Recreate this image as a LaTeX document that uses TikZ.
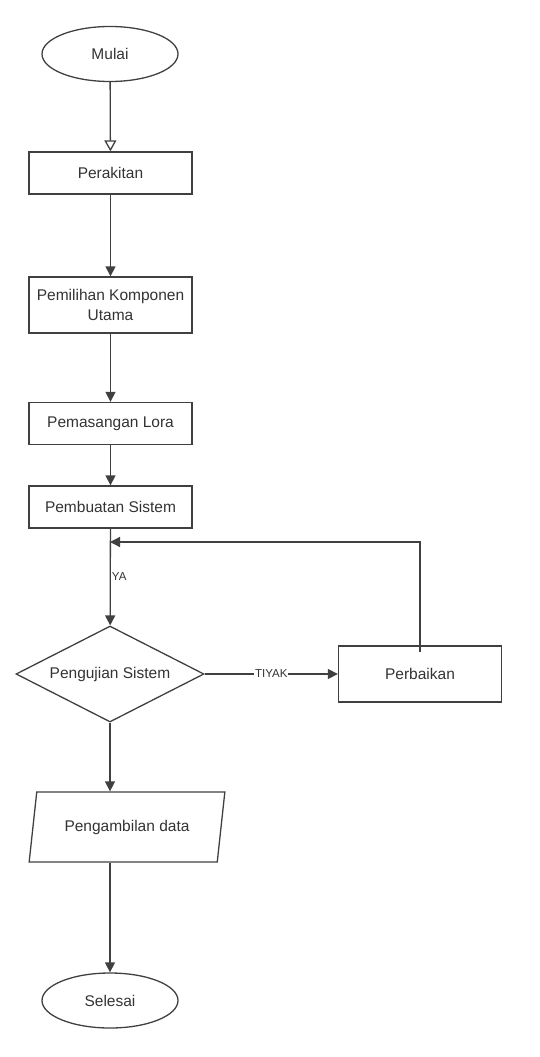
\documentclass[tikz,border=0pt]{standalone}
\usepackage{fontspec}
\setmainfont{Liberation Sans}
\usetikzlibrary{shapes.geometric,positioning,calc,arrows.meta}
\tikzset{
base/.style={draw=black!75,line width=1.3pt,text=black!80,font=\fontsize{15.5}{20}\selectfont,inner sep=0pt,align=center},
terminal/.style={base,ellipse,minimum width=136pt,minimum height=55pt},
process/.style={base,rectangle,minimum width=163pt,minimum height=42pt},
decision/.style={base,diamond,aspect=1.96,minimum width=188pt,minimum height=96pt},
iodata/.style={base,trapezium,trapezium left angle=70,trapezium right angle=110,trapezium stretches=true,minimum width=196pt,minimum height=70pt},
flow/.style={-{Triangle[length=10pt,width=10pt]},draw=black!75,line width=1.3pt},
openflow/.style={-{Triangle[open,length=11pt,width=12pt]},draw=black!75,line width=1.3pt},
edgelabel/.style={font=\fontsize{11.5}{13}\selectfont,text=black!80,inner sep=1pt}
}
\begin{document}
\begin{tikzpicture}[x=1pt,y=-1pt]
\useasboundingbox (0,0) rectangle (540,1057);
\node[terminal] (mulai) at (110,54) {Mulai};
\node[process] (rakit) at (110.5,173) {Perakitan};
\node[process,minimum height=56pt] (pilih) at (110.5,305) {Pemilihan Komponen\\Utama};
\node[process] (lora) at (110.5,423.5) {Pemasangan Lora};
\node[process] (buat) at (110.5,507) {Pembuatan Sistem};
\node[decision] (uji) at (110,674) {Pengujian Sistem};
\node[process,minimum height=56pt] (baik) at (420,674) {Perbaikan};
\node[iodata] (ambil) at (127,827) {Pengambilan data};
\node[terminal] (selesai) at (110,1000.5) {Selesai};
\coordinate (balik) at (110,542);

\draw[openflow] (mulai) -- (rakit);
\draw[flow] (rakit) -- (pilih);
\draw[flow] (pilih) -- (lora);
\draw[flow] (lora) -- (buat);
\draw[flow] (buat) -- node[edgelabel,right,pos=0.5] {YA} (uji);
\draw[flow] (uji) -- node[edgelabel,fill=white] {TIYAK} (baik);
\draw[flow] ([yshift=-7pt]baik.north) |- (balik);
\draw[flow] (uji.south) -- (uji.south |- ambil.north);
\draw[flow] (uji.south |- ambil.south) -- (selesai);
\end{tikzpicture}
\end{document}
